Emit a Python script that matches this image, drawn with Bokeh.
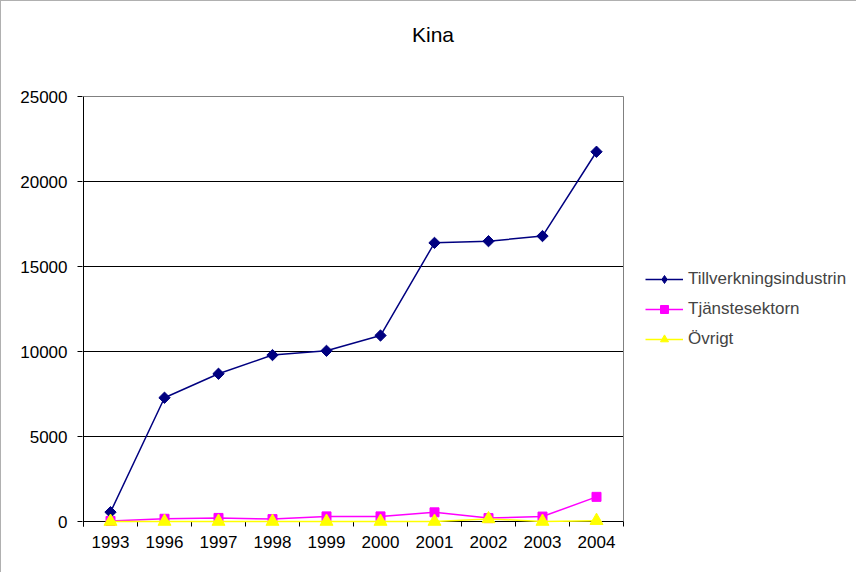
import math
from bokeh.plotting import figure
from bokeh.models import Legend, LegendItem, FixedTicker, Range1d, Label
from bokeh.embed import file_html
from bokeh.resources import INLINE

years = ["1993", "1996", "1997", "1998", "1999", "2000", "2001", "2002", "2003", "2004"]
tillverkning = [550, 7280, 8690, 9790, 10040, 10940, 16390, 16490, 16790, 21750]
tjanste = [30, 160, 210, 140, 300, 300, 540, 200, 290, 1450]
ovrigt = [0, 0, 0, 0, 0, 0, 0, 150, 0, 50]
y_ticks = [0, 5000, 10000, 15000, 20000, 25000]
series_names = ["Tillverkningsindustrin", "Tjänstesektorn", "Övrigt"]
title_text = "Kina"

FONT = "Liberation Sans"
n = len(years)
xs = [i + 0.5 for i in range(n)]
y_max = 25000

# pixel geometry of the single big frame
PX_X = 54.0            # pixels per category
PX_Y = 425.0 / y_max   # pixels per unit
FRAME_W, FRAME_H = 774, 532
TOP_SPACE = 95         # pixels above the 25000 line (title area)
FRAME_BELOW = 12       # frame room below zero, so markers at zero are not clipped
TICK_BELOW = 5         # y axis line and category ticks run 5 px below zero
x0 = -1 / PX_X
y_lo = -FRAME_BELOW / PX_Y
y_tick_end = -TICK_BELOW / PX_Y

p = figure(frame_width=FRAME_W, frame_height=FRAME_H,
           min_border_left=81, min_border_right=0, min_border_top=0, min_border_bottom=39,
           x_range=Range1d(x0, x0 + FRAME_W / PX_X),
           y_range=Range1d(y_lo, y_lo + FRAME_H / PX_Y),
           output_backend="svg", toolbar_location=None,
           styles={"border-left": "1px solid #b0b0b0", "border-top": "1px solid #b0b0b0"})

p.background_fill_color = "white"
p.border_fill_color = "white"
p.outline_line_color = None
p.xgrid.visible = False
p.ygrid.visible = False

# x axis: labels only
p.xaxis.ticker = FixedTicker(ticks=xs, minor_ticks=[])
p.xaxis.major_label_overrides = {x: y for x, y in zip(xs, years)}
p.xaxis.major_tick_out = 0
p.xaxis.major_tick_in = 0
p.xaxis.minor_tick_out = 0
p.xaxis.minor_tick_in = 0
p.xaxis.axis_line_color = None
p.xaxis.major_label_standoff = 2

# y axis: ticks and labels; the axis line is drawn as a segment at x=0
p.yaxis.ticker = FixedTicker(ticks=y_ticks, minor_ticks=[])
p.yaxis.major_tick_out = 5
p.yaxis.major_tick_in = 0
p.yaxis.major_tick_line_color = "black"
p.yaxis.axis_line_color = None
p.yaxis.major_label_standoff = 10

for ax in (p.xaxis, p.yaxis):
    ax.major_label_text_font = FONT
    ax.major_label_text_font_size = "17px"
    ax.major_label_text_color = "black"

# horizontal grid lines (black) inside the plot area
grid_y = y_ticks[:-1]
p.segment(x0=[0] * len(grid_y), y0=grid_y, x1=[n] * len(grid_y), y1=grid_y,
          line_color="black", line_width=1)
# gray border on top and right
p.segment(x0=[0, n], y0=[y_max, 0], x1=[n, n], y1=[y_max, y_max],
          line_color="#808080", line_width=1)
# y axis line
p.segment(x0=[0], y0=[y_tick_end], x1=[0], y1=[y_max], line_color="black", line_width=1)
# category boundary tick marks below the zero line
bounds = list(range(n + 1))
p.segment(x0=bounds, y0=[0] * len(bounds), x1=bounds, y1=[y_tick_end] * len(bounds),
          line_color="black", line_width=1)

colors = ["#000080", "#FF00FF", "#FFFF00"]
data = [tillverkning, tjanste, ovrigt]
markers = ["square", "square", "triangle"]
angles = [math.pi / 4, 0, 0]
sizes = [8, 9, 13]
legend_markers = ["diamond", "square", "triangle"]
legend_sizes = [12, 9, 12]

items = []
for name, vals, col, mk, ang, sz, lmk, lsz in zip(series_names, data, colors, markers, angles,
                                                  sizes, legend_markers, legend_sizes):
    l = p.line(xs, vals, line_color=col, line_width=1.5, level="overlay")
    p.scatter(xs, vals, marker=mk, angle=ang, size=sz, fill_color=col, line_color=col,
              level="overlay")
    # legend-only marker (no visible point)
    lm = p.scatter([float("nan")], [float("nan")], marker=lmk, size=lsz,
                   fill_color=col, line_color=col)
    items.append(LegendItem(label=name, renderers=[l, lm]))

legend = Legend(items=items, location=(563, 184), margin=0, padding=0,
                spacing=10, glyph_width=38, glyph_height=20, label_height=20,
                label_standoff=5, border_line_color=None, background_fill_alpha=0,
                label_text_font=FONT, label_text_font_size="17px")
p.add_layout(legend)

p.add_layout(Label(x=(431.5 - 82) / PX_X, y=y_max + (TOP_SPACE - 33) / PX_Y, text=title_text,
                   text_align="center", text_baseline="middle",
                   text_font=FONT, text_font_size="21px", text_color="black"))

open("out.html", "w").write(file_html(p, INLINE))
